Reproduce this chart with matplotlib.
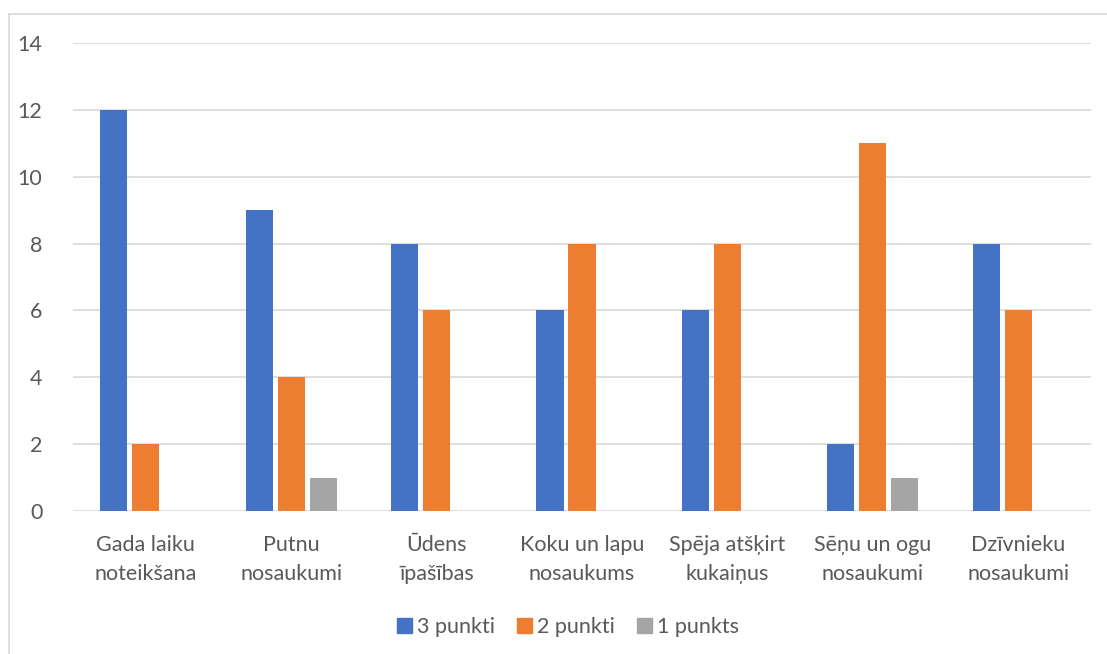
import matplotlib
matplotlib.use("Agg")
import matplotlib.pyplot as plt
import numpy as np
from matplotlib.lines import Line2D
from matplotlib.patches import Patch

categories = ["Gada laiku\nnoteikšana", "Putnu\nnosaukumi", "Ūdens\nīpašības",
              "Koku un lapu\nnosaukums", "Spēja atšķirt\nkukaiņus",
              "Sēņu un ogu\nnosaukumi", "Dzīvnieku\nnosaukumi"]
series_names = ["3 punkti", "2 punkti", "1 punkts"]
s3 = [12, 9, 8, 6, 6, 2, 8]
s2 = [2, 4, 6, 8, 8, 11, 6]
s1 = [0, 1, 0, 0, 0, 1, 0]
colors = ["#4472C4", "#ED7D31", "#A5A5A5"]
yticks = [0, 2, 4, 6, 8, 10, 12, 14]

plt.rcParams['font.family'] = ['Lato', 'DejaVu Sans']
W, H = 1107, 654
fig = plt.figure(figsize=(W/100, H/100), dpi=100)
ax = fig.add_axes([73/W, 1-511/H, (1091-73)/W, (511-43)/H])

x = np.arange(len(categories))
bw = 0.186
off = 0.22
for i, (vals, c) in enumerate(zip([s3, s2, s1], colors)):
    ax.bar(x + (i-1)*off, vals, width=bw, color=c, zorder=3)

ax.set_xlim(-0.5, len(categories)-0.5)
ax.set_ylim(0, 14)
ax.set_yticks(yticks)
ax.set_yticklabels([str(v) for v in yticks])
ax.set_xticks(x)
ax.set_xticklabels(categories, linespacing=1.6)
ax.yaxis.grid(True, color="#D9D9D9", linewidth=1.2, zorder=0)
ax.tick_params(axis='both', length=0, colors="#595959", labelsize=15.5)
ax.tick_params(axis='y', pad=22)
ax.tick_params(axis='x', pad=17)
for s in ax.spines.values():
    s.set_visible(False)

handles = [Patch(color=c, label=n) for c, n in zip(colors, series_names)]
leg = fig.legend(handles=handles, loc='center', bbox_to_anchor=(568/W, 1-627/H), ncol=3,
                 frameon=False, fontsize=15.5, handlelength=0.7, handleheight=0.7,
                 handletextpad=0.25, columnspacing=1.0)
for t in leg.get_texts():
    t.set_color("#595959")

fig.add_artist(Line2D([9/W, 9/W], [0, 1-14/H], color="#D9D9D9", linewidth=1.2))
fig.add_artist(Line2D([9/W, 1], [1-14/H, 1-14/H], color="#D9D9D9", linewidth=1.2))

fig.savefig("out.png", dpi=100)
